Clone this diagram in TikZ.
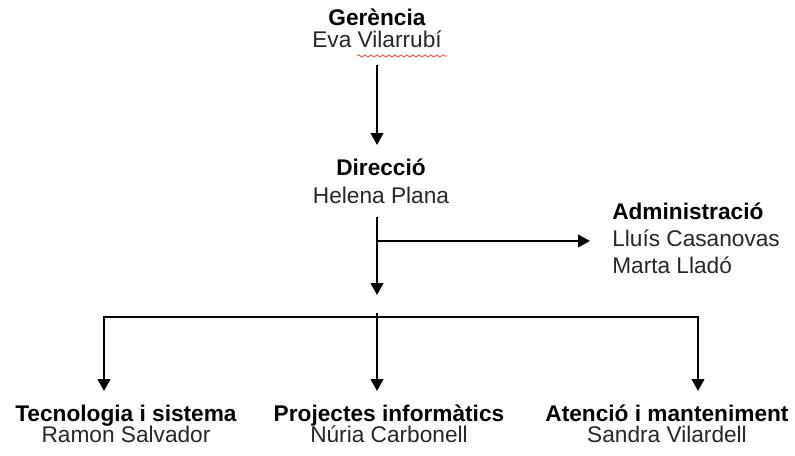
\documentclass[tikz,border=0pt]{standalone}
\usepackage{fontspec}
\setmainfont{Liberation Sans}
\usetikzlibrary{arrows.meta,calc,decorations.pathmorphing}
\newcommand{\lblfont}[1]{\fontsize{17}{#1}\selectfont\lineskiplimit=-100pt\lineskip=0pt}
\begin{document}
\begin{tikzpicture}[x=0.75pt,y=-0.75pt,
  lbl/.style={inner sep=0pt, anchor=base, align=center},
  arr/.style={line width=1.5pt, -{Triangle[length=9pt,width=9.5pt]}},
  ln/.style={line width=1.5pt}]
\useasboundingbox (0,0) rectangle (795,455);
% text blocks (base anchor = baseline of the last line)
\node[lbl, font={\lblfont{16.5}}] (ger) at (377,47) {\textbf{Gerència}\\{\color{black!85}Eva Vilarrubí}};
\node[lbl, font={\lblfont{21}}] (dir) at (381,203) {\textbf{Direcció}\\{\color{black!85}Helena Plana}};
\node[lbl, anchor=base west, align=left, font={\lblfont{19.9}}] (adm) at (612,273) {\textbf{Administració}\\{\color{black!85}Lluís Casanovas}\\{\color{black!85}Marta Lladó}};
\node[lbl, font={\lblfont{15.75}}] (tec) at (126,442) {\textbf{Tecnologia i sistema}\\{\color{black!85}Ramon Salvador}};
\node[lbl, font={\lblfont{15.75}}] (pro) at (389,442) {\textbf{Projectes informàtics}\\{\color{black!85}Núria Carbonell}};
\node[lbl, font={\lblfont{15.75}}] (ate) at (667,442) {\textbf{Atenció i manteniment}\\{\color{black!85}Sandra Vilardell}};
% spell-check wave
\coordinate (w1) at (357,56);
\coordinate (w2) at (447,56);
\draw[red!75!white, line width=0.6pt, decorate, decoration={snake, amplitude=0.9pt, segment length=4.5pt}] (w1) -- (w2);
% coordinates
\coordinate (busL) at (104,317);
\coordinate (busM) at (377,317);
\coordinate (busR) at (698,317);
\coordinate (br) at (377,241);
% connectors
\draw[arr, shorten <=13.5pt, shorten >=43.5pt] (ger.base) -- (ger.base |- dir.base);
\draw[arr, shorten <=10.5pt, shorten >=16.5pt] (dir.base -| busM) -- (busM);
\draw[arr, shorten >=16.5pt] (br) -- (br -| adm.west);
\draw[arr, shorten >=38.25pt] (busM) -| (busL |- tec.base);
\draw[arr, shorten >=38.25pt] (busM) -| (busR |- ate.base);
\draw[arr, shorten >=38.25pt] ([yshift=3pt]busM) -- (busM |- pro.base);
\end{tikzpicture}
\end{document}
